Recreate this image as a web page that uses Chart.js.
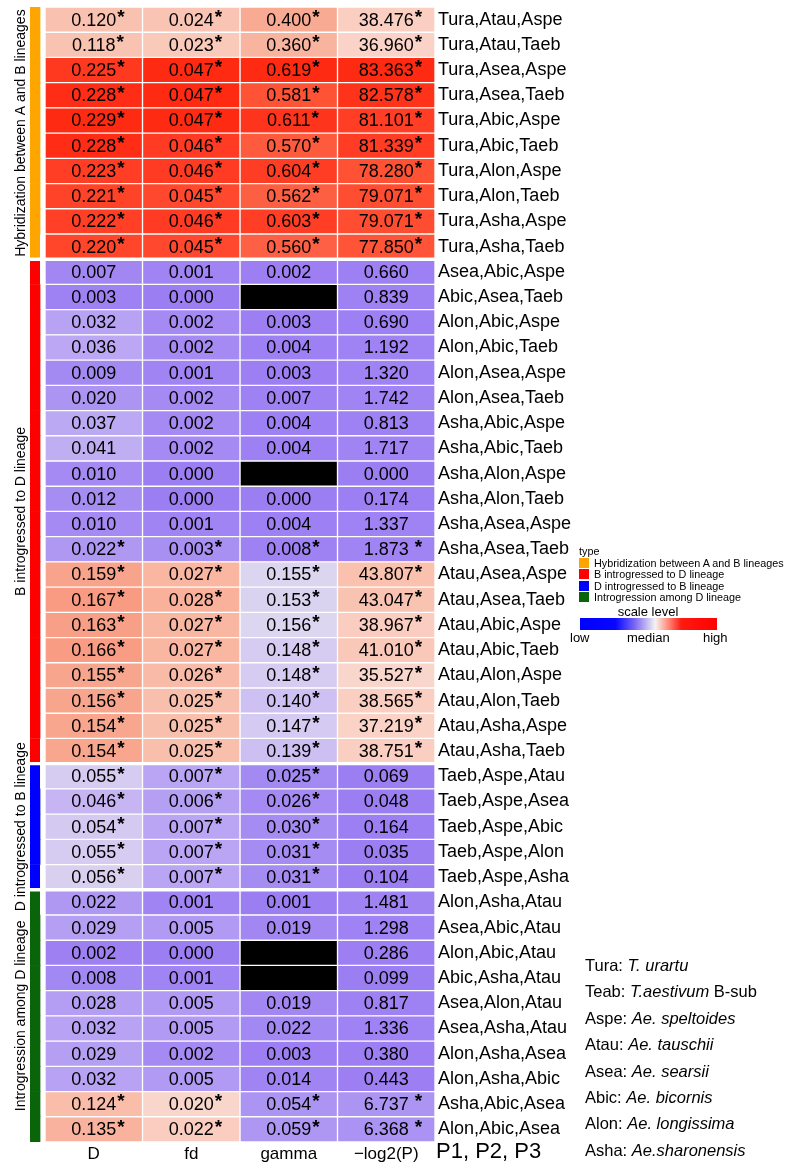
<!DOCTYPE html>
<html>
<head>
<meta charset="utf-8">
<script src="https://cdn.jsdelivr.net/npm/chart.js@4/dist/chart.umd.min.js"></script>
<style>
  html, body { margin: 0; padding: 0; background: #fff; }
  #wrap { position: relative; width: 787px; height: 1164px; font-family: "Liberation Sans", Arial, sans-serif; color: #000; overflow: hidden; }
  #heat { position: absolute; left: 0; top: 0; }
  #typeLegend { position: absolute; left: 579px; top: 546px; font-size: 10.8px; line-height: 11.5px; white-space: nowrap; }
  #typeLegend .sw { display: inline-block; width: 10px; height: 10px; margin-right: 5px; vertical-align: -1px; }
  #scaleTitle { position: absolute; left: 598px; width: 100px; top: 604px; text-align: center; font-size: 13px; }
  #scaleBar { position: absolute; left: 580px; top: 618px; width: 137px; height: 12px;
    background: linear-gradient(to right, #0000ff 0%, #0808ff 26%, #7a68f4 40%, #f6f2f2 55%, #ff9a88 63%, #ff1a10 74%, #ff0000 100%); }
  .scaleTick { position: absolute; top: 630px; font-size: 13px; }
  #species { position: absolute; left: 585px; top: 952px; font-size: 16.5px; line-height: 26.4px; white-space: nowrap; }
</style>
</head>
<body>
<div id="wrap">
  <canvas id="heat" width="787" height="1164"></canvas>
  <div id="typeLegend"></div>
  <div id="scaleTitle">scale level</div>
  <div id="scaleBar"></div>
  <div class="scaleTick" style="left:570px">low</div>
  <div class="scaleTick" style="left:627px">median</div>
  <div class="scaleTick" style="left:703px">high</div>
  <div id="species"></div>
</div>
<script>
// rijen (P1,P2,P3)
const rowLabels = [
  "Tura,Atau,Aspe", "Tura,Atau,Taeb", "Tura,Asea,Aspe", "Tura,Asea,Taeb", "Tura,Abic,Aspe",
  "Tura,Abic,Taeb", "Tura,Alon,Aspe", "Tura,Alon,Taeb", "Tura,Asha,Aspe", "Tura,Asha,Taeb",
  "Asea,Abic,Aspe", "Abic,Asea,Taeb", "Alon,Abic,Aspe", "Alon,Abic,Taeb", "Alon,Asea,Aspe",
  "Alon,Asea,Taeb", "Asha,Abic,Aspe", "Asha,Abic,Taeb", "Asha,Alon,Aspe", "Asha,Alon,Taeb",
  "Asha,Asea,Aspe", "Asha,Asea,Taeb", "Atau,Asea,Aspe", "Atau,Asea,Taeb", "Atau,Abic,Aspe",
  "Atau,Abic,Taeb", "Atau,Alon,Aspe", "Atau,Alon,Taeb", "Atau,Asha,Aspe", "Atau,Asha,Taeb",
  "Taeb,Aspe,Atau", "Taeb,Aspe,Asea", "Taeb,Aspe,Abic", "Taeb,Aspe,Alon", "Taeb,Aspe,Asha",
  "Alon,Asha,Atau", "Asea,Abic,Atau", "Alon,Abic,Atau", "Abic,Asha,Atau", "Asea,Alon,Atau",
  "Asea,Asha,Atau", "Alon,Asha,Asea", "Alon,Asha,Abic", "Asha,Abic,Asea", "Alon,Abic,Asea"
];

const colNames = ["D", "fd", "gamma", "\u2212log2(P)"];

const dVals = [
  0.120, 0.118, 0.225, 0.228, 0.229, 0.228, 0.223, 0.221, 0.222, 0.220,
  0.007, 0.003, 0.032, 0.036, 0.009, 0.020, 0.037, 0.041, 0.010, 0.012,
  0.010, 0.022, 0.159, 0.167, 0.163, 0.166, 0.155, 0.156, 0.154, 0.154,
  0.055, 0.046, 0.054, 0.055, 0.056,
  0.022, 0.029, 0.002, 0.008, 0.028, 0.032, 0.029, 0.032, 0.124, 0.135
];
const fdVals = [
  0.024, 0.023, 0.047, 0.047, 0.047, 0.046, 0.046, 0.045, 0.046, 0.045,
  0.001, 0.000, 0.002, 0.002, 0.001, 0.002, 0.002, 0.002, 0.000, 0.000,
  0.001, 0.003, 0.027, 0.028, 0.027, 0.027, 0.026, 0.025, 0.025, 0.025,
  0.007, 0.006, 0.007, 0.007, 0.007,
  0.001, 0.005, 0.000, 0.001, 0.005, 0.005, 0.002, 0.005, 0.020, 0.022
];
// null = NA (zwart vak)
const gammaVals = [
  0.400, 0.360, 0.619, 0.581, 0.611, 0.570, 0.604, 0.562, 0.603, 0.560,
  0.002, null, 0.003, 0.004, 0.003, 0.007, 0.004, 0.004, null, 0.000,
  0.004, 0.008, 0.155, 0.153, 0.156, 0.148, 0.148, 0.140, 0.147, 0.139,
  0.025, 0.026, 0.030, 0.031, 0.031,
  0.001, 0.019, null, null, 0.019, 0.022, 0.003, 0.014, 0.054, 0.059
];
const logPVals = [
  38.476, 36.960, 83.363, 82.578, 81.101, 81.339, 78.280, 79.071, 79.071, 77.850,
  0.660, 0.839, 0.690, 1.192, 1.320, 1.742, 0.813, 1.717, 0.000, 0.174,
  1.337, 1.873, 43.807, 43.047, 38.967, 41.010, 35.527, 38.565, 37.219, 38.751,
  0.069, 0.048, 0.164, 0.035, 0.104,
  1.481, 1.298, 0.286, 0.099, 0.817, 1.336, 0.380, 0.443, 6.737, 6.368
];

// significantie (*) per cel
const starStats = [
  1, 1, 1, 1, 1, 1, 1, 1, 1, 1,
  0, 0, 0, 0, 0, 0, 0, 0, 0, 0,
  0, 1, 1, 1, 1, 1, 1, 1, 1, 1,
  1, 1, 1, 1, 1,
  0, 0, 0, 0, 0, 0, 0, 0, 1, 1
];
const starLogP = [
  1, 1, 1, 1, 1, 1, 1, 1, 1, 1,
  0, 0, 0, 0, 0, 0, 0, 0, 0, 0,
  0, 1, 1, 1, 1, 1, 1, 1, 1, 1,
  0, 0, 0, 0, 0,
  0, 0, 0, 0, 0, 0, 0, 0, 1, 1
];

// type groepen
const typeNames = [
  "Hybridization between A and B lineages",
  "B introgressed to D lineage",
  "D introgressed to B lineage",
  "Introgression among D lineage"
];
const typeSizes = [10, 20, 5, 10];
const typeColors = ["#ffa500", "#ff0000", "#0000ff", "#0a640a"];

const speciesCodes = ["Tura", "Teab", "Aspe", "Atau", "Asea", "Abic", "Alon", "Asha"];
const speciesNames = ["T. urartu", "T.aestivum", "Ae. speltoides", "Ae. tauschii", "Ae. searsii", "Ae. bicornis", "Ae. longissima", "Ae.sharonensis"];
const speciesExtra = ["", " B-sub", "", "", "", "", "", ""];

const cols = [dVals, fdVals, gammaVals, logPVals];
const stars = [starStats, starStats, starStats, starLogP];
const FONT = '"Liberation Sans", Arial, sans-serif';
Chart.defaults.font.family = FONT;

// rij -> groep
const rowType = [];
typeSizes.forEach((n, g) => { for (let k = 0; k < n; k++) rowType.push(g); });
const nRows = rowLabels.length;
const isStart = i => i > 0 && rowType[i] !== rowType[i - 1];
const isEnd = i => i < nRows - 1 && rowType[i] !== rowType[i + 1];

// kleurschaal paars -> wit -> rood
const stops = [
  [0.00, "#9c7ef3"], [0.05, "#a58cf2"], [0.15, "#b9a5f3"], [0.22, "#cbbbf2"],
  [0.25, "#dcd5f0"], [0.28, "#e8e4ef"], [0.36, "#f5e2de"], [0.45, "#fad1c5"],
  [0.52, "#f9c2b0"], [0.60, "#f9b09a"], [0.70, "#f8a28a"], [0.80, "#f88a70"],
  [0.88, "#fb6a4e"], [0.94, "#ff5235"], [0.98, "#ff3a22"], [1.00, "#ff2a12"]
];
function hexRgb(h) { return [1, 3, 5].map(k => parseInt(h.slice(k, k + 2), 16)); }
function heatColor(t) {
  t = Math.max(0, Math.min(1, t));
  for (let k = 1; k < stops.length; k++) {
    if (t <= stops[k][0]) {
      const [t0, c0] = stops[k - 1], [t1, c1] = stops[k];
      const f = (t - t0) / (t1 - t0);
      const a = hexRgb(c0), b = hexRgb(c1);
      return `rgb(${a.map((v, j) => Math.round(v + (b[j] - v) * f)).join(",")})`;
    }
  }
  return stops[stops.length - 1][1];
}

const colMax = cols.map(v => Math.max(...v.filter(x => x !== null)));

const heatSets = cols.map((vals, c) => ({
  label: colNames[c],
  data: vals.map(() => [c, c + 1]),
  backgroundColor: vals.map(v => v === null ? "#000000" : heatColor(v / colMax[c])),
  borderColor: "#ffffff",
  borderWidth: ctx => ({ top: isStart(ctx.dataIndex) ? 2 : 1, bottom: isEnd(ctx.dataIndex) ? 2 : 1, left: 1, right: 1 }),
  borderSkipped: false,
  barPercentage: 1,
  categoryPercentage: 1,
  grouped: false
}));

const typeSet = {
  label: "type",
  data: rowLabels.map(() => [-0.154, -0.051]),
  backgroundColor: rowType.map(g => typeColors[g]),
  borderColor: "#ffffff",
  borderWidth: ctx => ({ top: isStart(ctx.dataIndex) ? 2 : 0, bottom: isEnd(ctx.dataIndex) ? 2 : 0, left: 0, right: 0 }),
  borderSkipped: false,
  barPercentage: 1,
  categoryPercentage: 1,
  grouped: false
};

// getallen + sterren in de cellen
const cellText = {
  id: "cellText",
  afterDatasetsDraw(ch) {
    const { ctx, scales: { x, y } } = ch;
    ctx.save();
    ctx.fillStyle = "#000";
    ctx.textBaseline = "middle";
    cols.forEach((vals, c) => {
      const cx = x.getPixelForValue(c + 0.5);
      vals.forEach((v, i) => {
        if (v === null) return;
        const cy = y.getPixelForValue(i) + 1;
        const txt = v.toFixed(3);
        ctx.font = `18px ${FONT}`;
        ctx.textAlign = "center";
        ctx.fillText(txt, cx, cy);
        if (stars[c][i]) {
          let sx = cx + ctx.measureText(txt).width / 2 + 1;
          if (c === 3 && v < 10) sx += 5;
          ctx.font = `bold 19px ${FONT}`;
          ctx.textAlign = "left";
          ctx.fillText("*", sx, cy - 3);
        }
      });
    });
    ctx.restore();
  }
};

// gedraaide groepnamen links + "P1, P2, P3"
const sideText = {
  id: "sideText",
  afterDraw(ch) {
    const { ctx, scales: { x, y } } = ch;
    ctx.save();
    ctx.fillStyle = "#000";
    ctx.textAlign = "center";
    ctx.textBaseline = "middle";
    ctx.font = `14px ${FONT}`;
    let start = 0;
    typeSizes.forEach((n, g) => {
      const mid = (y.getPixelForValue(start) + y.getPixelForValue(start + n - 1)) / 2;
      ctx.save();
      ctx.translate(21, mid);
      ctx.rotate(-Math.PI / 2);
      ctx.fillText(typeNames[g], 0, 0);
      ctx.restore();
      start += n;
    });
    ctx.textAlign = "left";
    ctx.font = `22px ${FONT}`;
    ctx.fillText("P1, P2, P3", x.right + 1, 1152);
    ctx.restore();
  }
};

new Chart(document.getElementById("heat"), {
  type: "bar",
  data: { labels: rowLabels, datasets: [...heatSets, typeSet] },
  options: {
    indexAxis: "y",
    responsive: false,
    animation: false,
    layout: { padding: { left: 30, top: 7, right: 0, bottom: 0 } },
    plugins: { legend: { display: false }, tooltip: { enabled: false } },
    scales: {
      x: {
        type: "linear", min: -0.154, max: 4,
        grid: { display: false, drawTicks: false }, border: { display: false },
        afterBuildTicks: ax => { ax.ticks = colNames.map((n, i) => ({ value: i + 0.5 })); },
        afterFit: ax => { ax.height = 22; ax.paddingLeft = 0; ax.paddingRight = 0; },
        ticks: { autoSkip: false, maxRotation: 0, padding: 2, color: "#000", font: { size: 17 },
                 callback: (v, i) => colNames[i] }
      },
      y: {
        type: "category", position: "right",
        grid: { display: false, drawTicks: false }, border: { display: false },
        afterFit: ax => { ax.width = 352; ax.paddingTop = 0; ax.paddingBottom = 0; },
        ticks: { autoSkip: false, padding: 3, color: "#000", font: { size: 18 } }
      }
    }
  },
  plugins: [cellText, sideText]
});

// legenda type
const tl = document.getElementById("typeLegend");
tl.innerHTML = "<div>type</div>" + typeNames.map((n, g) =>
  `<div><span class="sw" style="background:${typeColors[g]}"></span>${n}</div>`).join("");

// legenda soorten
document.getElementById("species").innerHTML = speciesCodes.map((c, k) =>
  `<div>${c}: <i>${speciesNames[k]}</i>${speciesExtra[k]}</div>`).join("");
</script>
</body>
</html>
